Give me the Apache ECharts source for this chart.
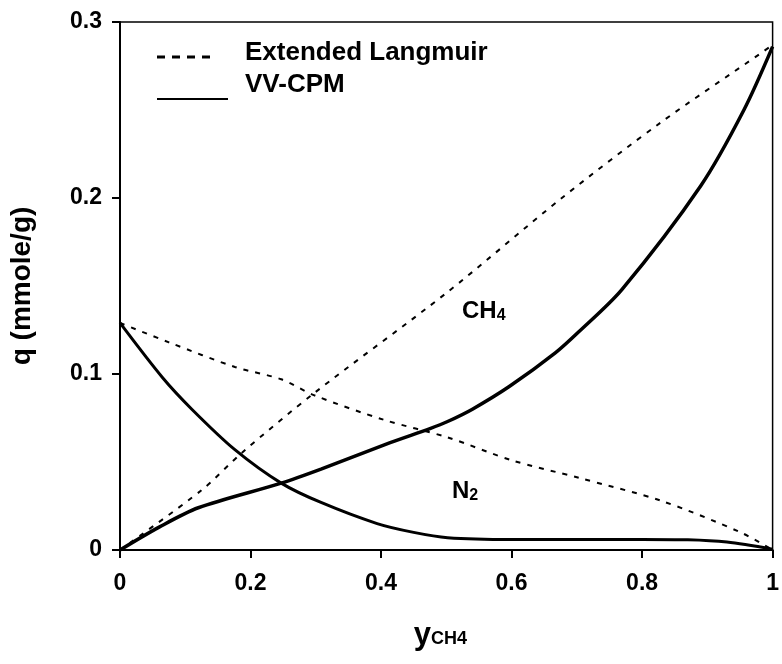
<!DOCTYPE html>
<html>
<head>
<meta charset="utf-8">
<script src="https://cdn.jsdelivr.net/npm/echarts@6/dist/echarts.min.js"></script>
<style>
html,body{margin:0;padding:0;background:#fff;}
#c{width:782px;height:664px;}
</style>
</head>
<body>
<div id="c"></div>
<script>
// Data: [y_CH4, q (mmole/g)]
var ch4Langmuir = [[0,0],[0.125,0.034],[0.186,0.055],[0.297,0.089],[0.5,0.146],[0.677,0.200],[0.829,0.243],[0.981,0.282],[1,0.287]];
var n2Langmuir  = [[0,0.129],[0.075,0.118],[0.176,0.104],[0.247,0.097],[0.297,0.088],[0.404,0.074],[0.502,0.064],[0.6,0.051],[0.703,0.041],[0.829,0.028],[0.951,0.010],[1,0]];
var ch4VVCPM    = [[0,0],[0.06,0.013],[0.12,0.024],[0.247,0.038],[0.308,0.046],[0.414,0.061],[0.475,0.069],[0.502,0.073],[0.54,0.080],[0.597,0.093],[0.667,0.112],[0.703,0.124],[0.769,0.148],[0.89,0.207],[0.956,0.25],[1,0.286]];
var n2VVCPM     = [[0,0.129],[0.065,0.098],[0.11,0.080],[0.176,0.057],[0.247,0.038],[0.308,0.027],[0.394,0.015],[0.45,0.010],[0.502,0.007],[0.6,0.006],[0.7,0.006],[0.8,0.006],[0.87,0.0058],[0.93,0.0045],[1,0.0005]];
var xTicks = [0, 0.2, 0.4, 0.6, 0.8, 1];
var yTicks = [0, 0.1, 0.2, 0.3];
var legendNames = ['Extended Langmuir', 'VV-CPM'];

var FONT = '"Liberation Sans", Arial, sans-serif';
var chart = echarts.init(document.getElementById('c'), null, {renderer: 'canvas'});

function dashed(name, data) {
  return {type: 'line', name: name, data: data, smooth: 0.3, symbol: 'none',
    lineStyle: {color: '#000', width: 2, type: [5, 7]}, z: 3};
}
function solid(name, data, w) {
  return {type: 'line', name: name, data: data, smooth: 0.3, symbol: 'none',
    lineStyle: {color: '#000', width: w, type: 'solid'}, z: 4};
}

chart.setOption({
  animation: false,
  backgroundColor: '#fff',
  grid: {left: 117, right: 6, top: 22, bottom: 114, show: true, borderColor: '#000', borderWidth: 1.5},
  xAxis: {
    type: 'value', min: xTicks[0], max: xTicks[xTicks.length - 1], interval: 0.2,
    name: '{a|y}{b|CH4}', nameLocation: 'middle', nameGap: 70,
    nameTextStyle: {padding: [0, 12, 0, 0], rich: {
      a: {fontFamily: FONT, fontWeight: 'bold', fontSize: 31, color: '#000'},
      b: {fontFamily: FONT, fontWeight: 'bold', fontSize: 18, color: '#000', padding: [8, 0, 0, 0]}
    }},
    axisLine: {show: true, onZero: false, lineStyle: {color: '#000', width: 2}},
    axisTick: {show: true, inside: false, length: 8, lineStyle: {color: '#000', width: 2}},
    splitLine: {show: false},
    axisLabel: {color: '#000', fontFamily: FONT, fontWeight: 'bold', fontSize: 23, margin: 22,
      formatter: function (v) { return String(+v.toFixed(1)); }}
  },
  yAxis: {
    type: 'value', min: yTicks[0], max: yTicks[yTicks.length - 1], interval: 0.1,
    name: 'q (mmole/g)', nameLocation: 'middle', nameGap: 84, nameRotate: 90,
    nameTextStyle: {color: '#000', fontFamily: FONT, fontWeight: 'bold', fontSize: 28},
    axisLine: {show: true, onZero: false, lineStyle: {color: '#000', width: 2}},
    axisTick: {show: true, inside: false, length: 8, lineStyle: {color: '#000', width: 2}},
    splitLine: {show: false},
    axisLabel: {color: '#000', fontFamily: FONT, fontWeight: 'bold', fontSize: 23, margin: 18,
      formatter: function (v) { return String(+v.toFixed(1)); }}
  },
  series: [
    dashed(legendNames[0], ch4Langmuir),
    dashed(legendNames[0], n2Langmuir),
    solid(legendNames[1], ch4VVCPM, 3.5),
    solid(legendNames[1], n2VVCPM, 3)
  ],
  graphic: [
    {type: 'line', shape: {x1: 157, y1: 57, x2: 216, y2: 57}, style: {stroke: '#000', lineWidth: 3, lineDash: [8, 7]}},
    {type: 'text', left: 245, top: 40, style: {text: legendNames[0], fill: '#000', font: 'bold 26px ' + FONT}},
    {type: 'line', shape: {x1: 157, y1: 99, x2: 228, y2: 99}, style: {stroke: '#000', lineWidth: 2}},
    {type: 'text', left: 245, top: 72, style: {text: legendNames[1], fill: '#000', font: 'bold 26px ' + FONT}},
    {type: 'text', left: 462, top: 299, style: {
      text: '{a|CH}{b|4}', rich: {
        a: {fontFamily: FONT, fontWeight: 'bold', fontSize: 24, fill: '#000'},
        b: {fontFamily: FONT, fontWeight: 'bold', fontSize: 16, fill: '#000', padding: [10, 0, 0, 0]}
      }}},
    {type: 'text', left: 452, top: 479, style: {
      text: '{a|N}{b|2}', rich: {
        a: {fontFamily: FONT, fontWeight: 'bold', fontSize: 24, fill: '#000'},
        b: {fontFamily: FONT, fontWeight: 'bold', fontSize: 16, fill: '#000', padding: [10, 0, 0, 0]}
      }}}
  ]
});
</script>
</body>
</html>
